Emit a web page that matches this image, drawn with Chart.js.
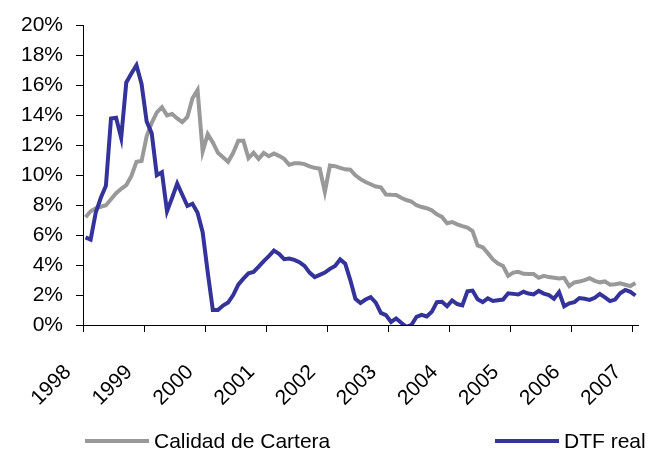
<!DOCTYPE html>
<html>
<head>
<meta charset="utf-8">
<script src="https://cdn.jsdelivr.net/npm/chart.js@4.4.0/dist/chart.umd.min.js"></script>
<style>
  html, body { margin: 0; padding: 0; background: #fff; }
</style>
</head>
<body>
<canvas id="carteraChart" width="663" height="457"></canvas>
<script>
// monthly series, Jan 1998 .. Jan 2007
const years = ['1998', '1999', '2000', '2001', '2002', '2003', '2004', '2005', '2006', '2007'];
const yTicks = [0, 2, 4, 6, 8, 10, 12, 14, 16, 18, 20];

const calidadCartera = [
    7.2, 7.6, 7.8, 7.9, 8.0, 8.4, 8.8, 9.1, 9.35, 9.95, 10.9, 10.95,
    12.6, 13.5, 14.2, 14.55, 14.0, 14.1, 13.8, 13.55, 13.9, 15.15, 15.7, 11.6,
    12.75, 12.2, 11.5, 11.2, 10.9, 11.5, 12.3, 12.3, 11.15, 11.5, 11.1, 11.5,
    11.27, 11.45, 11.3, 11.1, 10.7, 10.8, 10.8, 10.75, 10.6, 10.5, 10.44, 8.9,
    10.66, 10.61, 10.5, 10.4, 10.37, 10.0, 9.74, 9.55, 9.4, 9.25, 9.2, 8.72,
    8.7, 8.69, 8.5, 8.35, 8.25, 8.0, 7.88, 7.8, 7.66, 7.4, 7.22, 6.8,
    6.88, 6.72, 6.6, 6.5, 6.28, 5.32, 5.19, 4.8, 4.38, 4.1, 3.94, 3.28,
    3.5, 3.55, 3.42, 3.4, 3.4, 3.15, 3.28, 3.2, 3.15, 3.1, 3.15, 2.6,
    2.84, 2.9, 3.0, 3.13, 2.95, 2.85, 2.91, 2.69, 2.72, 2.78, 2.69, 2.6,
    2.8
];

const dtfReal = [
    5.85, 5.7, 7.5, 8.5, 9.3, 13.8, 13.85, 12.5, 16.2, 16.8, 17.35, 16.1,
    13.6, 12.8, 10.0, 10.2, 7.6, 8.5, 9.45, 8.7, 7.95, 8.1, 7.5, 6.2,
    3.5, 1.0, 1.0, 1.3, 1.5, 2.0, 2.7, 3.1, 3.45, 3.55, 3.9, 4.27,
    4.6, 4.97, 4.75, 4.4, 4.44, 4.35, 4.2, 3.95, 3.5, 3.2, 3.35, 3.5,
    3.75, 3.95, 4.38, 4.1, 3.0, 1.75, 1.47, 1.7, 1.86, 1.5, 0.81, 0.66,
    0.2, 0.44, 0.15, -0.12, 0.0, 0.55, 0.68, 0.57, 0.88, 1.53, 1.55, 1.25,
    1.64, 1.4, 1.31, 2.25, 2.3, 1.72, 1.53, 1.78, 1.6, 1.65, 1.7, 2.12,
    2.08, 2.04, 2.22, 2.1, 2.04, 2.28, 2.1, 2.0, 1.75, 2.2, 1.25, 1.45,
    1.53, 1.8, 1.75, 1.68, 1.82, 2.08, 1.85, 1.6, 1.7, 2.12, 2.34, 2.22,
    1.97
];

const monthsTotal = calidadCartera.length;
const fontFamily = '"Liberation Sans", Arial, sans-serif';

function toPoints(values) {
    // each month sits in the middle of its slot
    return values.map(function(v, i) { return { x: i + 0.5, y: v }; });
}

// legend drawn under the plot, spread out like the original
const bottomLegend = {
    id: 'bottomLegend',
    afterDraw: function(chart) {
        const ctx = chart.ctx;
        const spots = [{ ds: 1, x: 85 }, { ds: 0, x: 495 }];
        const y = 441;
        ctx.save();
        ctx.font = '21px ' + fontFamily;
        ctx.textBaseline = 'middle';
        ctx.textAlign = 'left';
        spots.forEach(function(s) {
            const ds = chart.data.datasets[s.ds];
            ctx.strokeStyle = ds.borderColor;
            ctx.lineWidth = ds.borderWidth;
            ctx.beginPath();
            ctx.moveTo(s.x, y);
            ctx.lineTo(s.x + 64, y);
            ctx.stroke();
            ctx.fillStyle = '#000';
            ctx.fillText(ds.label, s.x + 69, y + 1);
        });
        ctx.restore();
    }
};

const ctx = document.getElementById('carteraChart').getContext('2d');
const carteraChart = new Chart(ctx, {
    type: 'line',
    data: {
        datasets: [
            {
                label: 'DTF real',
                data: toPoints(dtfReal),
                borderColor: '#333399',
                borderWidth: 4,
                pointRadius: 0,
                tension: 0,
                fill: false,
                order: 0
            },
            {
                label: 'Calidad de Cartera',
                data: toPoints(calidadCartera),
                borderColor: '#999999',
                borderWidth: 4,
                pointRadius: 0,
                tension: 0,
                fill: false,
                order: 1
            }
        ]
    },
    options: {
        responsive: false,
        animation: false,
        devicePixelRatio: 1,
        layout: {
            padding: { top: 20, right: 25, bottom: 0, left: 0 }
        },
        scales: {
            x: {
                type: 'linear',
                min: 0,
                max: monthsTotal,
                afterBuildTicks: function(scale) {
                    scale.ticks = years.map(function(y, k) { return { value: k * 12 }; });
                },
                afterFit: function(scale) {
                    scale.height = 132;
                    scale.paddingLeft = 0;
                    scale.paddingRight = 0;
                },
                grid: {
                    drawOnChartArea: false,
                    drawTicks: true,
                    tickLength: 7,
                    color: '#000'
                },
                border: { display: true, color: '#000', width: 1 },
                ticks: {
                    autoSkip: false,
                    minRotation: 45,
                    maxRotation: 45,
                    padding: 28,
                    labelOffset: -15,
                    color: '#000',
                    font: { family: fontFamily, size: 21 },
                    callback: function(value) {
                        return years[Math.round(value / 12)];
                    }
                }
            },
            y: {
                min: 0,
                max: 20,
                afterBuildTicks: function(scale) {
                    scale.ticks = yTicks.map(function(v) { return { value: v }; });
                },
                afterFit: function(scale) {
                    scale.width = 83;
                },
                grid: {
                    drawOnChartArea: false,
                    drawTicks: true,
                    tickLength: 7,
                    color: '#000'
                },
                border: { display: true, color: '#000', width: 1 },
                ticks: {
                    padding: 13,
                    color: '#000',
                    font: { family: fontFamily, size: 21 },
                    callback: function(value) {
                        return value + '%';
                    }
                }
            }
        },
        plugins: {
            legend: { display: false },
            tooltip: { enabled: false }
        }
    },
    plugins: [bottomLegend]
});
</script>
</body>
</html>
